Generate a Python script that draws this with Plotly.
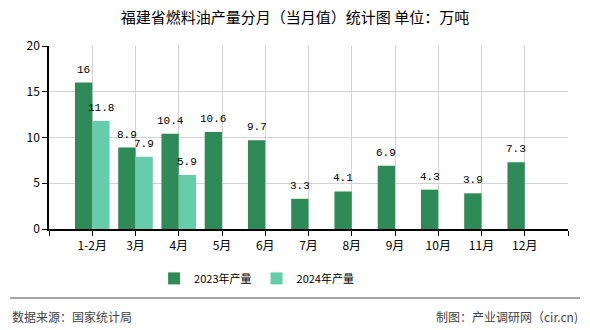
import plotly.graph_objects as go

categories = ["1-2月", "3月", "4月", "5月", "6月", "7月", "8月", "9月", "10月", "11月", "12月"]
values_2023 = [16, 8.9, 10.4, 10.6, 9.7, 3.3, 4.1, 6.9, 4.3, 3.9, 7.3]
values_2024 = [11.8, 7.9, 5.9, None, None, None, None, None, None, None, None]
y_ticks = [0, 5, 10, 15, 20]

x_idx = list(range(len(categories)))
label_font = dict(family="Liberation Mono, DejaVu Sans Mono, monospace", size=11, color="#000")

fig = go.Figure()
fig.add_trace(go.Bar(
    x=x_idx, y=values_2023, name="2023年产量", marker_color="#2E8B57", marker_line_width=0,
))
fig.add_trace(go.Bar(
    x=x_idx, y=values_2024, name="2024年产量", marker_color="#66CDAA", marker_line_width=0,
))

bar_half = 0.2  # grouped bar offset (bargap 0.2 -> two bars of 0.4)
annotations = []
for i, v in enumerate(values_2023):
    annotations.append(dict(x=i - bar_half, y=v, xref="x", yref="y", text=str(v), showarrow=False,
                            yanchor="bottom", yshift=5, font=label_font))
for i, v in enumerate(values_2024):
    if v is not None:
        annotations.append(dict(x=i + bar_half, y=v, xref="x", yref="y", text=str(v), showarrow=False,
                                yanchor="bottom", yshift=5, font=label_font))

annotations += [
    dict(text="数据来源：国家统计局", xref="paper", yref="paper", x=-39 / 519, xanchor="left",
         y=-87 / 183, yanchor="middle", showarrow=False, font=dict(size=12, color="#444")),
    dict(text="制图：产业调研网（cir.cn)", xref="paper", yref="paper", x=531 / 519, xanchor="right",
         y=-87 / 183, yanchor="middle", showarrow=False, font=dict(size=12, color="#444")),
]

tickvals = [-1] + x_idx + [len(categories)]
ticktext = [""] + categories + [""]

fig.update_layout(
    width=590, height=330,
    margin=dict(l=49, r=22, t=46, b=101),
    paper_bgcolor="white", plot_bgcolor="white",
    barmode="group", bargap=0.2, bargroupgap=0,
    font=dict(family="Noto Sans CJK SC, sans-serif", size=12, color="#000"),
    title=dict(text="福建省燃料油产量分月（当月值）统计图 单位：万吨", x=0.5, xanchor="center",
               y=1 - 18 / 330, yanchor="middle", font=dict(size=15, color="#000")),
    showlegend=True,
    legend=dict(orientation="h", x=0.40, xanchor="center", y=-0.27, yanchor="middle",
                font=dict(size=11, color="#000"), itemwidth=30, traceorder="normal"),
    xaxis=dict(range=[-1, len(categories)], tickmode="array", tickvals=tickvals, ticktext=ticktext,
               showgrid=True, gridcolor="#d3d3d3", gridwidth=1,
               showline=True, linecolor="#000", linewidth=1.5,
               ticks="outside", ticklen=5, tickcolor="#000",
               tickfont=dict(size=12, color="#000"), zeroline=False, fixedrange=True),
    yaxis=dict(range=[0, 20], tickmode="array", tickvals=y_ticks,
               showgrid=True, gridcolor="#d3d3d3", gridwidth=1,
               showline=True, linecolor="#000", linewidth=1.5,
               ticks="outside", ticklen=5, tickcolor="#000",
               tickfont=dict(size=12, color="#000"), zeroline=False, fixedrange=True),
    shapes=[dict(type="line", xref="paper", yref="paper", x0=-39 / 519, x1=531 / 519,
                 y0=-69 / 183, y1=-69 / 183, line=dict(color="#888", width=1.5))],
    annotations=annotations,
)

fig.write_html("out.html")
